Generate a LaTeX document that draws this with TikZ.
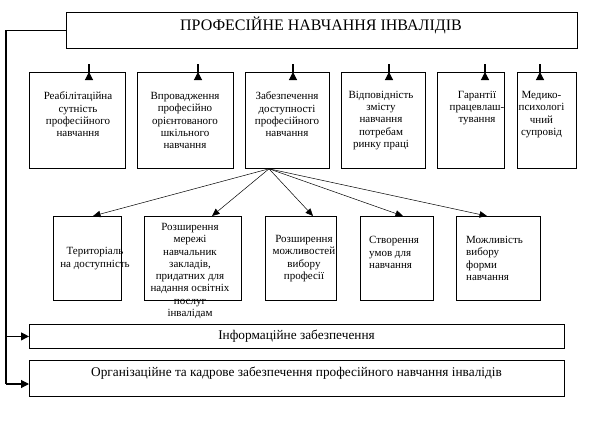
\documentclass[tikz,border=0pt]{standalone}
\usepackage{fontspec}
\setmainfont{Liberation Serif}
\usetikzlibrary{arrows.meta,calc}
\begin{document}
\begin{tikzpicture}[x=1pt,y=-1pt,
  box/.style={draw,line width=0.8pt,inner sep=0pt,anchor=north west},
  txt/.style={align=center,inner sep=0pt,font=\fontsize{11}{12.3}\selectfont},
  ltxt/.style={align=left,inner sep=0pt,anchor=west,font=\fontsize{11}{12.3}\selectfont},
  toparrow/.style={line width=1.1pt,-{Triangle[length=8pt,width=8pt]}},
  fanarrow/.style={line width=0.5pt,-{Triangle[length=7.5pt,width=6.5pt]}},
  sidearrow/.style={line width=1.1pt,-{Triangle[length=8pt,width=8pt]}}]
\useasboundingbox (0,0) rectangle (589,421);
% top box
\node[box,minimum width=511pt,minimum height=36pt] (top) at (66,12) {};
\node[inner sep=0pt,font=\fontsize{16}{18}\selectfont] (topt) at (321,25) {ПРОФЕСІЙНЕ НАВЧАННЯ ІНВАЛІДІВ};
% row 1
\node[box,minimum width=96pt,minimum height=96pt] (b1) at (29,72) {};
\node[box,minimum width=96pt,minimum height=96pt] (b2) at (137,72) {};
\node[box,minimum width=84pt,minimum height=96pt] (b3) at (245,72) {};
\node[box,minimum width=84pt,minimum height=96pt] (b4) at (341,72) {};
\node[box,minimum width=67pt,minimum height=96pt] (b5) at (437,72) {};
\node[box,minimum width=59pt,minimum height=96pt] (b6) at (517,72) {};
\node[txt] (t1) at (78,114.5) {Реабілітаційна\\сутність\\професійного\\навчання};
\node[txt] (t2) at (185,120.5) {Впровадження\\професійно\\орієнтованого\\шкільного\\навчання};
\node[txt] (t3) at (287,114.5) {Забезпечення\\доступності\\професійного\\навчання};
\node[txt] (t4) at (381,120.5) {Відповідність\\змісту\\навчання\\потребам\\ринку праці};
\node[txt] (t5) at (477,108) {Гарантії\\працевлаш-\\тування};
\node[txt] (t6) at (541.5,114.5) {Медико-\\психологі\\чний\\супровід};
% arrows top -> row 1
\foreach \b/\o in {b1/60,b2/61,b3/48,b4/48,b5/48,b6/23}{
  \draw[toparrow] ($(\b.north west)+(\o,0)$ |- top.south) -- ($(\b.north west)+(\o,0)$);
}
% row 2
\node[box,minimum width=68pt,minimum height=84pt] (ra) at (53,216) {};
\node[box,minimum width=97pt,minimum height=84pt] (rb) at (144,216) {};
\node[box,minimum width=71pt,minimum height=84pt] (rc) at (265,216) {};
\node[box,minimum width=73pt,minimum height=84pt] (rd) at (360,216) {};
\node[box,minimum width=84pt,minimum height=84pt] (re) at (456,216) {};
\node[txt] (ta) at (95,258.5) {Територіаль\\на доступність};
\node[txt] (tb) at (190,271) {Розширення\\мережі\\навчальник\\закладів,\\придатних для\\надання освітніх\\послуг\\інвалідам};
\node[txt] (tc) at (304,258.5) {Розширення\\можливостей\\вибору\\професії};
\node[ltxt] (td) at (369,252.5) {Створення\\умов для\\навчання};
\node[ltxt] (te) at (466,258.5) {Можливість\\вибору\\форми\\навчання};
% fan arrows
\coordinate (fan) at ($(b3.south west)+(24,0)$);
\foreach \b/\o in {ra/40,rb/68,rc/48,rd/43,re/31}{
  \draw[fanarrow] (fan) -- ($(\b.north west)+(\o,0)$);
}
% bottom boxes
\node[box,minimum width=535pt,minimum height=24pt] (info) at (29,324) {};
\node[inner sep=0pt,font=\fontsize{13.3}{15}\selectfont] (infot) at (296.5,336) {Інформаційне забезпечення};
\node[box,minimum width=535pt,minimum height=36pt] (org) at (29,360) {};
\node[inner sep=0pt,font=\fontsize{13.3}{15}\selectfont] (orgt) at (296.5,373) {Організаційне та кадрове забезпечення професійного навчання інвалідів};
% side connector
\coordinate (c1) at ($(top.west)+(-60,0)$);
\coordinate (c2) at (c1 |- info.west);
\coordinate (c3) at ($(c1 |- org.north)+(0,24)$);
\draw[line width=1.1pt] (top.west) -- (c1) -- (c3);
\draw[sidearrow] (c2) -- (info.west);
\draw[sidearrow] (c3) -- (c3 -| org.west);
\end{tikzpicture}
\end{document}
